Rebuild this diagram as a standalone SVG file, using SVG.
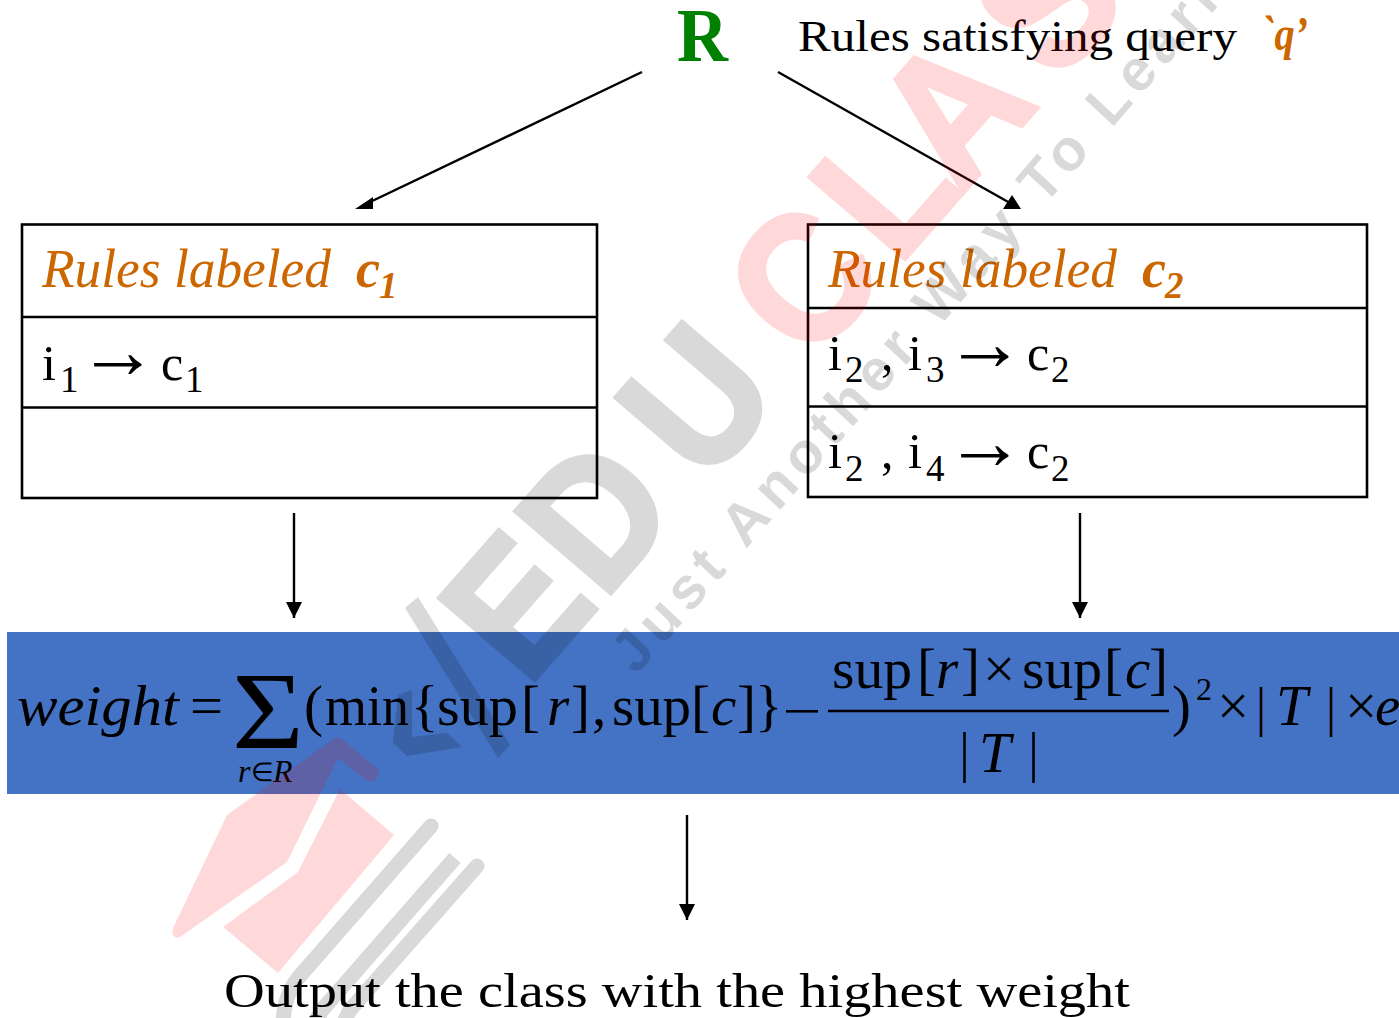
<svg xmlns="http://www.w3.org/2000/svg" width="1399" height="1018" viewBox="0 0 1399 1018">
<style>
text{font-family:"Liberation Serif","Times New Roman",serif;fill:#000}
.t45{font-size:45px}
.ital{font-style:italic}
.bi{font-style:italic;font-weight:700}
.or{fill:#cc6600}
.lab{font-size:54px}
.sub{font-size:37px}
.row{font-size:50px}
.arr{font-size:80px}
.fm{font-size:57px}
.box{fill:none;stroke:#000;stroke-width:2.6}
.conn{stroke:#000;stroke-width:2.4;fill:none}
.head{fill:#000}
.bar{fill:none;stroke:#000;stroke-width:2.6}
text.wm,text.ws{font-family:"Liberation Sans",Arial,sans-serif;font-weight:700}
text.wm{font-size:182px}
text.ws{font-size:58px;letter-spacing:6.85px}
text.gy{fill:#000;stroke:#000;stroke-width:5px}
text.ws.gy{stroke:none}
text.pk{fill:#f00;stroke:#f00;stroke-width:5px}
</style>
<defs>
<marker id="ah" markerUnits="userSpaceOnUse" markerWidth="16" markerHeight="18" refX="16" refY="8" orient="auto"><path d="M0 0L16 8L0 16Z" fill="#000"/></marker>
</defs>
<rect width="1399" height="1018" fill="#fff"/>
<g id="connectors">
<line class="conn" x1="642" y1="72" x2="368" y2="203"/>
<polygon class="head" points="355,209 373,197 373,209"/>
<line class="conn" x1="778" y1="72" x2="1010" y2="203"/>
<polygon class="head" points="1021,209 1012,195 1003,209"/>
<line class="conn" x1="294" y1="513" x2="294" y2="618" marker-end="url(#ah)"/>
<line class="conn" x1="1080" y1="513" x2="1080" y2="618" marker-end="url(#ah)"/>
<line class="conn" x1="687" y1="815" x2="687" y2="920" marker-end="url(#ah)"/>
</g>
<g id="node-r">
<text x="677" y="61" font-size="76" font-weight="700" style="fill:#008000" textLength="51" lengthAdjust="spacingAndGlyphs">R</text>
</g>
<g id="node-query">
<text class="t45" x="798" y="51" textLength="439" lengthAdjust="spacingAndGlyphs">Rules satisfying query</text>
<text class="bi or" font-size="48" x="1261" y="50" textLength="47" lengthAdjust="spacingAndGlyphs">`q’</text>
</g>
<g id="node-c1">
<rect class="box" x="22" y="224.500" width="575" height="273.500"/>
<line class="box" x1="22" y1="317" x2="597" y2="317"/>
<line class="box" x1="22" y1="407.500" x2="597" y2="407.500"/>
<text class="lab ital or" x="42" y="287" textLength="289" lengthAdjust="spacingAndGlyphs">Rules labeled</text>
<text class="lab bi or" x="356" y="287">c</text>
<text class="sub bi or" x="379" y="298">1</text>
<text class="row" x="42" y="380" textLength="14" lengthAdjust="spacingAndGlyphs">i</text>
<text class="sub" x="60" y="392">1</text>
<text class="arr" x="78" y="378">→</text>
<text class="row" x="161" y="380">c</text>
<text class="sub" x="185" y="392">1</text>
</g>
<g id="node-c2">
<rect class="box" x="808" y="224.500" width="559" height="272.500"/>
<line class="box" x1="808" y1="308" x2="1367" y2="308"/>
<line class="box" x1="808" y1="406.500" x2="1367" y2="406.500"/>
<text class="lab ital or" x="828" y="287" textLength="289" lengthAdjust="spacingAndGlyphs">Rules labeled</text>
<text class="lab bi or" x="1142" y="287">c</text>
<text class="sub bi or" x="1165" y="298">2</text>
<text class="row" x="828" y="370" textLength="14" lengthAdjust="spacingAndGlyphs">i</text>
<text class="sub" x="845" y="382">2</text>
<text class="row" x="881" y="370">,</text>
<text class="row" x="908" y="370" textLength="14" lengthAdjust="spacingAndGlyphs">i</text>
<text class="sub" x="926" y="382">3</text>
<text class="arr" x="945" y="370">→</text>
<text class="row" x="1027" y="370">c</text>
<text class="sub" x="1051" y="382">2</text>
<text class="row" x="828" y="468" textLength="14" lengthAdjust="spacingAndGlyphs">i</text>
<text class="sub" x="845" y="481">2</text>
<text class="row" x="881" y="468">,</text>
<text class="row" x="908" y="468" textLength="14" lengthAdjust="spacingAndGlyphs">i</text>
<text class="sub" x="926" y="481">4</text>
<text class="arr" x="945" y="469">→</text>
<text class="row" x="1027" y="468">c</text>
<text class="sub" x="1051" y="481">2</text>
</g>
<g id="node-formula">
<rect x="7" y="632" width="1392" height="162" fill="#4472c4"/>
<text class="fm ital" x="17" y="725" textLength="162" lengthAdjust="spacingAndGlyphs">weight</text>
<text class="fm" x="190" y="725" textLength="33" lengthAdjust="spacingAndGlyphs">=</text>
<text x="232" y="748" font-size="110" textLength="72" lengthAdjust="spacingAndGlyphs">Σ</text>
<text x="238" y="782" font-size="32" font-style="italic">r</text>
<text x="251" y="781" font-size="26">∈</text>
<text x="273" y="782" font-size="32" font-style="italic">R</text>
<text class="fm" x="304" y="725">(</text>
<text class="fm" x="325" y="725" textLength="84" lengthAdjust="spacingAndGlyphs">min</text>
<text class="fm" x="411" y="725">{</text>
<text class="fm" x="437" y="725" textLength="81" lengthAdjust="spacingAndGlyphs">sup</text>
<text class="fm" x="521" y="725">[</text>
<text class="fm ital" x="547" y="725">r</text>
<text class="fm" x="571" y="725">]</text>
<text class="fm" x="592" y="725">,</text>
<text class="fm" x="612" y="725" textLength="79" lengthAdjust="spacingAndGlyphs">sup</text>
<text class="fm" x="691" y="725">[</text>
<text class="fm ital" x="711" y="725">c</text>
<text class="fm" x="737" y="725">]</text>
<text class="fm" x="755" y="725">}</text>
<rect x="786" y="710" width="32" height="2.600" fill="#000"/>
<text class="fm" x="832" y="688" textLength="80" lengthAdjust="spacingAndGlyphs">sup</text>
<text class="fm" x="917" y="688">[</text>
<text class="fm ital" x="936" y="688">r</text>
<text class="fm" x="961" y="688">]</text>
<text class="fm" x="983" y="688">×</text>
<text class="fm" x="1022" y="688" textLength="80" lengthAdjust="spacingAndGlyphs">sup</text>
<text class="fm" x="1104" y="688">[</text>
<text class="fm ital" x="1125" y="688">c</text>
<text class="fm" x="1149" y="688">]</text>
<line class="bar" x1="828" y1="711" x2="1169" y2="711"/>
<line class="bar" x1="964.500" y1="732" x2="964.500" y2="783"/>
<text class="fm ital" x="979" y="772">T</text>
<line class="bar" x1="1033.500" y1="732" x2="1033.500" y2="783"/>
<text class="fm" x="1172" y="725">)</text>
<text x="1196" y="700" font-size="32">2</text>
<text class="fm" x="1217" y="725">×</text>
<line class="bar" x1="1261" y1="687" x2="1261" y2="737"/>
<text class="fm ital" x="1276" y="725">T</text>
<line class="bar" x1="1331" y1="687" x2="1331" y2="737"/>
<text class="fm" x="1345" y="725">×</text>
<text class="fm ital" x="1375" y="725">e</text>
</g>
<g id="node-output">
<text x="224" y="1007" font-size="48" textLength="906" lengthAdjust="spacingAndGlyphs">Output the class with the highest weight</text>
</g>
<g id="watermark">
<g fill="#f00" fill-opacity=".15">
<path d="M335 738Q339 737 343 740L377 768Q381 772 377 778Q372 784 366 780L338 758L287 862L180 937Q176 939 173 935Q172 932 173 928L227 815Z"/>
<polygon points="340,789 394,835 278,973 223,927 298,872"/>
</g>
<g opacity=".15">
<g fill="none" stroke="#000" stroke-width="15">
<path stroke-linecap="round" d="M431 826L298 978Q284 996 283 1022"/>
<path d="M455 858L322 1010L315 1022"/>
<path stroke-linecap="round" d="M477 866L350 1010L344 1022"/>
</g>
<polygon points="405,608 418,597 510,745 498,758"/>
<polygon points="398,695 412,690 412,737 447,733 462,747 407,756 393,743"/>
<text class="wm gy" transform="matrix(.607 -.69 .76 .65 535 679)" x="-13 112.600 279">EDU</text>
<text class="ws gy" transform="matrix(.656 -.755 .73 .68 636 676)">Just Another Way To Learn</text>
</g>
<g opacity=".15">
<text class="wm pk" transform="matrix(.607 -.69 .76 .65 535 679)" x="454 597 701 862">CLAS</text>
</g>
</g>
</svg>
